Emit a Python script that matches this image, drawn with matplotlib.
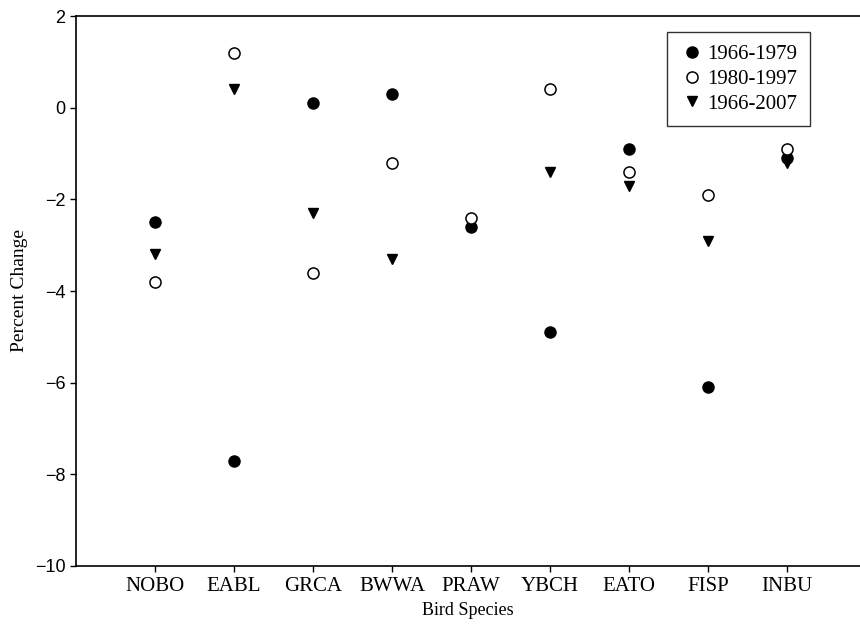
import matplotlib
matplotlib.use('Agg')
import matplotlib.pyplot as plt

# Bird species and percent change per period
species = ['NOBO', 'EABL', 'GRCA', 'BWWA', 'PRAW', 'YBCH', 'EATO', 'FISP', 'INBU']
p1966_1979 = [-2.5, -7.7, 0.1, 0.3, -2.6, -4.9, -0.9, -6.1, -1.1]
p1980_1997 = [-3.8, 1.2, -3.6, -1.2, -2.4, 0.4, -1.4, -1.9, -0.9]
p1966_2007 = [-3.2, 0.4, -2.3, -3.3, -2.5, -1.4, -1.7, -2.9, -1.2]

serif = ['Liberation Serif', 'DejaVu Serif']
sans = ['Liberation Sans', 'DejaVu Sans']

fig = plt.figure(figsize=(8.6, 6.31), dpi=100)
ax = fig.add_axes([76 / 860, 65 / 631, 1 - 76 / 860, 550 / 631])

x = list(range(1, len(species) + 1))
ax.plot(x, p1966_1979, 'o', color='black', markersize=8, label='1966-1979', zorder=3)
ax.plot(x, p1980_1997, 'o', markerfacecolor='white', markeredgecolor='black',
        markeredgewidth=1.1, markersize=8, label='1980-1997', zorder=4)
ax.plot(x, p1966_2007, 'v', color='black', markersize=7.5, label='1966-2007', zorder=2)

ax.set_xlim(0, 784 / 79)
ax.set_ylim(-10, 2)
ax.set_xticks(x)
ax.set_xticklabels(species, fontfamily=serif, fontsize=15)
ax.set_yticks(range(-10, 3, 2))
ax.set_yticklabels([str(v).replace('-', '\u2212') for v in range(-10, 3, 2)],
                   fontfamily=sans, fontsize=13)
ax.tick_params(direction='out', length=4, width=1, top=False, right=False)
ax.tick_params(axis='x', pad=4)

ax.spines['right'].set_visible(False)
for s in ['left', 'bottom', 'top']:
    ax.spines[s].set_linewidth(1.2)

ax.set_xlabel('Bird Species', fontfamily=serif, fontsize=13, labelpad=4)
ax.set_ylabel('Percent Change', fontfamily=serif, fontsize=14, labelpad=5)

leg = ax.legend(loc='upper left', bbox_to_anchor=((667 - 76) / 784, 1 - 16 / 550),
                borderaxespad=0, prop={'family': serif, 'size': 15},
                frameon=True, fancybox=False, handletextpad=0.15, handlelength=1.2,
                borderpad=0.6, labelspacing=0.25)
leg.get_frame().set_edgecolor('black')
leg.get_frame().set_linewidth(1.0)

fig.savefig('out.png', dpi=100)
